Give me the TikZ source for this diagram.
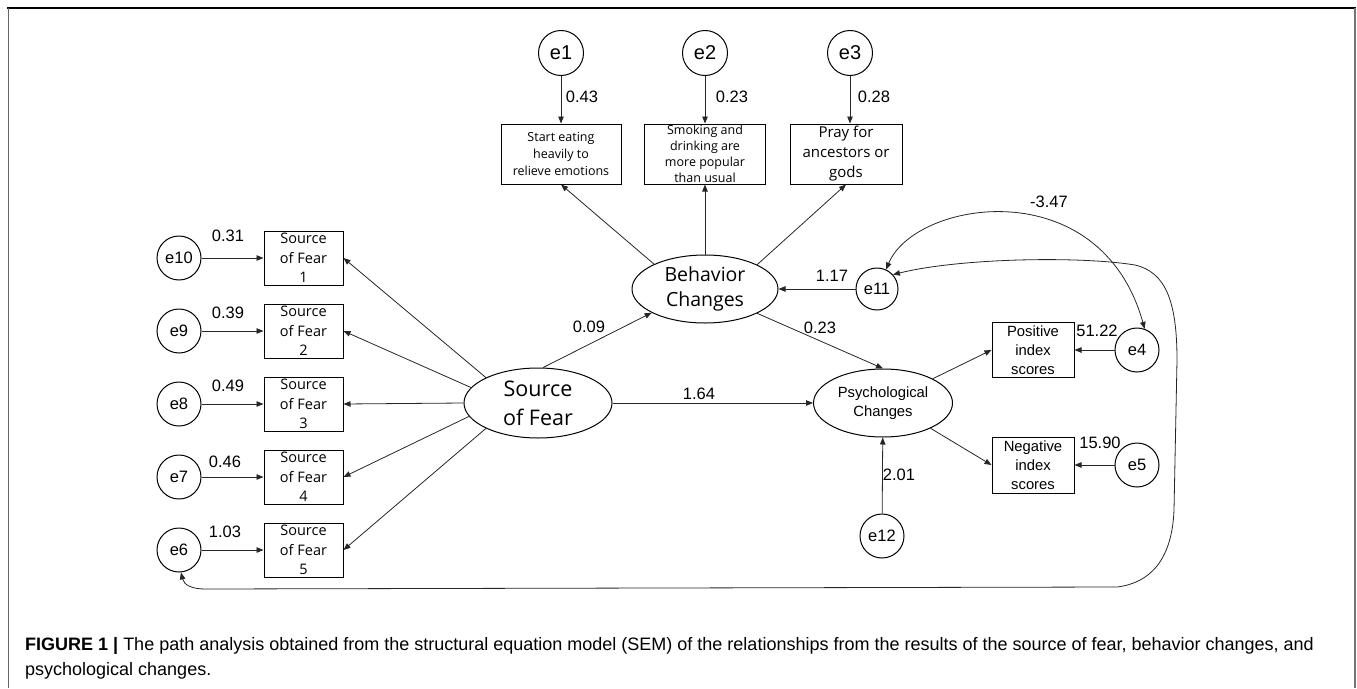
\documentclass[tikz,border=0pt]{standalone}
\usepackage{fontspec}
\setmainfont{Liberation Sans}
\newfontfamily\boxfont{Open Sans}
\usetikzlibrary{shapes.geometric,arrows.meta}
\newcommand\myfs[2]{\fontsize{#1}{#2}\selectfont}
\tikzset{
  ln/.style={draw=black!85, line width=0.8pt},
  arr/.style={ln, -{Triangle[length=7pt,width=5.5pt]}},
  darr/.style={ln, {Triangle[length=7pt,width=5.5pt]}-{Triangle[length=7pt,width=5.5pt]}},
  err/.style={circle, draw=black, line width=1pt, minimum size=44pt, inner sep=0pt, font=\myfs{16.5}{19}},
  errbig/.style={err, minimum size=45pt, font=\myfs{20}{22}},
  obs/.style={rectangle, draw=black, line width=1pt, inner sep=0pt, align=center},
  sfbox/.style={obs, minimum width=79pt, minimum height=54pt, font=\boxfont\myfs{14.5}{19.5}},
  lat/.style={ellipse, draw=black, line width=1pt, inner sep=0pt, align=center},
  num/.style={font=\myfs{16.5}{19}, inner sep=0pt}
}
\begin{document}
\begin{tikzpicture}[x=1pt,y=-1pt]
\useasboundingbox (0,0) rectangle (1357,688);
% frame
\draw[black, line width=1.3pt] (7,8) -- (1356,8);
\draw[black!60, line width=0.8pt] (8,8) -- (8,688);
\draw[black!55, line width=1.6pt] (1355,8) -- (1355,688);

% top error terms and boxes
\node[errbig] (e1) at (561,53) {e1};
\node[errbig] (e2) at (705,53) {e2};
\node[errbig] (e3) at (850,53) {e3};
\node[obs, minimum width=120pt, minimum height=60pt, font=\boxfont\myfs{12.5}{17}] (b1) at (561,154) {Start eating\\heavily to\\relieve emotions};
\node[obs, minimum width=121pt, minimum height=60pt, font=\boxfont\myfs{12.5}{16}] (b2) at (705,154) {Smoking and\\drinking are\\more popular\\than usual};
\node[obs, minimum width=112pt, minimum height=60pt, font=\boxfont\myfs{15}{20}] (b3) at (846,154) {Pray for\\ancestors or\\gods};
\draw[arr] (e1) -- (b1);
\draw[arr] (e2) -- (b2);
\draw[arr] (e3) -- (b3.north -| e3);
\node[num] (l43) at (582,97) {0.43};
\node[num] (l23a) at (732,97) {0.23};
\node[num] (l28) at (874,97) {0.28};

% latent variables
\node[lat, minimum width=146pt, minimum height=68pt, font=\boxfont\myfs{19.5}{25}] (bc) at (705,289) {Behavior\\Changes};
\node[lat, minimum width=148pt, minimum height=70pt, font=\boxfont\myfs{21.5}{29}] (sf) at (538,403) {Source\\of Fear};
\node[lat, minimum width=139pt, minimum height=68pt, font=\myfs{14.8}{19}] (pc) at (883,403) {Psychological\\Changes};

\draw[arr] (bc.154) -- (b1.south);
\draw[arr] (bc.north) -- (b2.south);
\draw[arr] (bc.25) -- (b3.south);

% left column
\foreach \i/\e/\y in {1/10/258,2/9/331,3/8/404,4/7/477,5/6/550}{
  \node[err] (e\e) at (179,\y) {e\e};
  \node[sfbox] (s\i) at (303.5,\y) {Source\\of Fear\\\i};
  \draw[arr] (e\e) -- (s\i);
}
\node[num] (l31) at (228,236) {0.31};
\node[num] (l39) at (228,313) {0.39};
\node[num] (l49) at (228,386) {0.49};
\node[num] (l46) at (225,462) {0.46};
\node[num] (l103) at (225,532) {1.03};

\draw[arr] (sf.154) -- (s1.east);
\draw[arr] (sf.167) -- (s2.east);
\draw[arr] (sf.west) -- (s3.east);
\draw[arr] (sf.191) -- (s4.east);
\draw[arr] (sf.206) -- (s5.east);

% structural paths
\draw[arr] (sf.82) -- (bc.204);
\node[num] (l09) at (589,327) {0.09};
\draw[arr] (sf.east) -- (pc.west);
\node[num] (l164) at (699,394) {1.64};
\draw[arr] (bc.335) -- (pc.north);
\node[num] (l23b) at (820,328) {0.23};

\node[err, minimum size=42pt] (e11) at (877,289) {e11};
\draw[arr] (e11) -- (bc);
\node[num] (l117) at (832,276) {1.17};

% indicators of psychological changes
\node[obs, minimum width=82pt, minimum height=55pt, font=\myfs{14.8}{19}] (pos) at (1033,350) {Positive\\index\\scores};
\node[obs, minimum width=82pt, minimum height=56pt, font=\myfs{14.8}{19}] (neg) at (1033,465) {Negative\\index\\scores};
\node[err] (e4) at (1137,350) {e4};
\node[err] (e5) at (1137,465) {e5};
\draw[arr] (e4) -- (pos);
\draw[arr] (e5) -- (neg);
\draw[arr] (pc.26) -- (pos.west);
\draw[arr] (pc.332) -- (neg.west);
\node[num] (l5122) at (1097,331) {51.22};
\node[num] (l1590) at (1100,443) {15.90};

\node[err] (e12) at (882,536) {e12};
\draw[arr] (e12) -- (pc);
\node[num] (l201) at (899,475) {2.01};

% covariances
\draw[darr] (e11.65) .. controls (915,200) and (1100,170) .. (e4.70);
\node[num] (l347) at (1049,202) {-3.47};
\draw[darr] (e11.42) .. controls (960,258) and (1080,256) .. (1135,265)
  .. controls (1165,272) and (1177,300) .. (1177,360) -- (1174,510)
  .. controls (1172,560) and (1150,583) .. (1117,587) -- (205,589)
  .. controls (192,589) and (184,585) .. (e6.-85);

% caption
\node[anchor=base west, inner sep=0pt, font=\myfs{18}{22}] (cap1) at (25,650) {\textbf{FIGURE 1 |} The path analysis obtained from the structural equation model (SEM) of the relationships from the results of the source of fear, behavior changes, and};
\node[anchor=base west, inner sep=0pt, font=\myfs{18}{22}] (cap2) at (25,675) {psychological changes.};
\end{tikzpicture}
\end{document}
